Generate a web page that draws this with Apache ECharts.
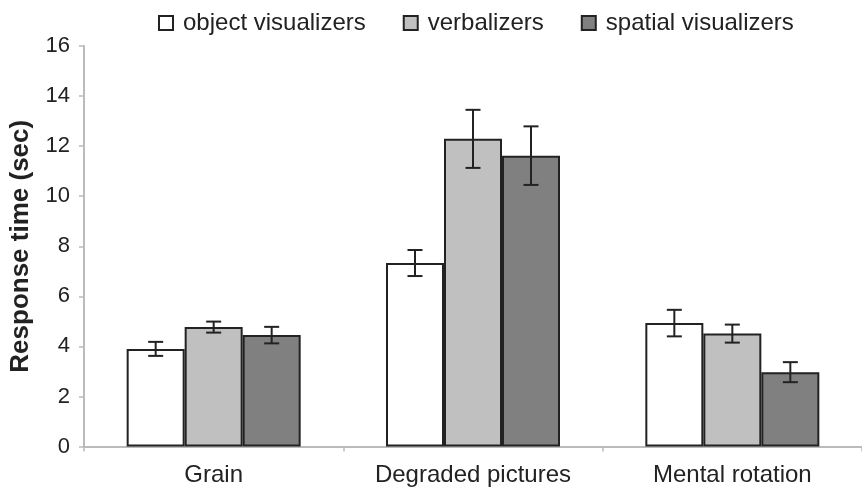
<!DOCTYPE html>
<html>
<head>
<meta charset="utf-8">
<script src="https://cdn.jsdelivr.net/npm/echarts@6/dist/echarts.min.js"></script>
<style>html,body{margin:0;padding:0;background:#fff}#c{width:862px;height:494px}</style>
</head>
<body>
<div id="c"></div>
<script>
const categories = ['Grain', 'Degraded pictures', 'Mental rotation'];
const seriesNames = ['object visualizers', 'verbalizers', 'spatial visualizers'];
const objectVis = [3.9, 7.33, 4.93];
const verbalizers = [4.77, 12.29, 4.51];
const spatialVis = [4.45, 11.62, 2.97];
const objectErr = [0.28, 0.52, 0.53];
const verbalErr = [0.22, 1.16, 0.36];
const spatialErr = [0.33, 1.17, 0.4];
const yTicks = [0, 2, 4, 6, 8, 10, 12, 14, 16];

const values = [objectVis, verbalizers, spatialVis];
const errs = [objectErr, verbalErr, spatialErr];
const fills = ['#ffffff', '#c0c0c0', '#808080'];
const BW = 58;
const font = 'Liberation Sans, Arial, sans-serif';

const chart = echarts.init(document.getElementById('c'));
const series = [];
values.forEach((v, i) => {
  series.push({
    name: seriesNames[i], type: 'bar', data: v, barWidth: BW, barGap: 0,
    itemStyle: { color: fills[i], borderColor: '#222', borderWidth: 2 },
    emphasis: { disabled: true }
  });
});
values.forEach((v, i) => {
  const data = v.map((m, k) => [k, m - errs[i][k], m + errs[i][k]]);
  series.push({
    type: 'custom', data: data, z: 10, silent: true,
    renderItem: function (params, api) {
      const k = api.value(0);
      const lo = api.coord([k, api.value(1)]);
      const hi = api.coord([k, api.value(2)]);
      const x = lo[0] + (i - 1) * BW;
      const cap = 7.5;
      const st = { stroke: '#222', lineWidth: 2 };
      return { type: 'group', children: [
        { type: 'line', shape: { x1: x, y1: lo[1], x2: x, y2: hi[1] }, style: st },
        { type: 'line', shape: { x1: x - cap, y1: lo[1], x2: x + cap, y2: lo[1] }, style: st },
        { type: 'line', shape: { x1: x - cap, y1: hi[1], x2: x + cap, y2: hi[1] }, style: st }
      ]};
    }
  });
});

chart.setOption({
  animation: false,
  backgroundColor: '#fff',
  textStyle: { fontFamily: font },
  legend: {
    data: seriesNames, top: 11, left: 158, padding: 0, itemWidth: 14, itemHeight: 14, itemGap: 37,
    icon: 'rect',
    textStyle: { fontSize: 24, color: '#222', fontFamily: font, padding: [0, 0, 0, 5] }
  },
  grid: { left: 83, top: 46, width: 786, height: 400.5, containLabel: false },
  xAxis: {
    type: 'category', data: categories,
    axisLine: { lineStyle: { color: '#bbb', width: 2 } },
    axisTick: { show: true, length: 5, lineStyle: { color: '#bbb', width: 1.5 } },
    axisLabel: { fontSize: 24, color: '#222', margin: 17, fontFamily: font }
  },
  yAxis: {
    type: 'value', min: 0, max: 16, interval: 2,
    name: 'Response time (sec)', nameLocation: 'middle', nameGap: 50,
    nameTextStyle: { fontSize: 26, fontWeight: 'bold', color: '#222', fontFamily: font },
    axisLine: { show: true, lineStyle: { color: '#bbb', width: 2 } },
    axisTick: { show: true, length: 5, lineStyle: { color: '#bbb', width: 1.5 } },
    splitLine: { show: false },
    axisLabel: { fontSize: 22, color: '#222', margin: 14, fontFamily: font,
      formatter: v => yTicks.indexOf(v) >= 0 ? String(v) : '' }
  },
  series: series
});
</script>
</body>
</html>
